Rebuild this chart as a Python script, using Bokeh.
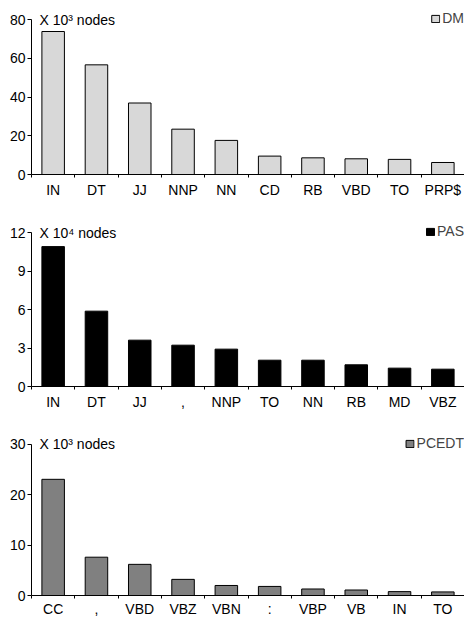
from bokeh.plotting import figure
from bokeh.layouts import column
from bokeh.models import Range1d, FixedTicker, Label, Legend, LegendItem, ColumnDataSource
from bokeh.embed import file_html
from bokeh.resources import INLINE

# ---- data ----
dm_tags = ["IN", "DT", "JJ", "NNP", "NN", "CD", "RB", "VBD", "TO", "PRP$"]
dm_vals = [73.8, 56.6, 36.9, 23.4, 17.6, 9.5, 8.6, 8.1, 7.8, 6.2]

pas_tags = ["IN", "DT", "JJ", ",", "NNP", "TO", "NN", "RB", "MD", "VBZ"]
pas_vals = [10.9, 5.87, 3.61, 3.22, 2.91, 2.05, 2.05, 1.69, 1.43, 1.35]

pcedt_tags = ["CC", ",", "VBD", "VBZ", "VBN", ":", "VBP", "VB", "IN", "TO"]
pcedt_vals = [23.05, 7.6, 6.18, 3.2, 1.99, 1.8, 1.29, 1.09, 0.77, 0.71]

panels = [
    dict(name="DM", tags=dm_tags, vals=dm_vals, ymax=80, yticks=[0, 20, 40, 60, 80],
         unit="X 10\u00b3 nodes", color="#d8d8d8"),
    dict(name="PAS", tags=pas_tags, vals=pas_vals, ymax=12, yticks=[0, 3, 6, 9, 12],
         unit="X 10\u2074 nodes", color="#000000"),
    dict(name="PCEDT", tags=pcedt_tags, vals=pcedt_vals, ymax=30, yticks=[0, 10, 20, 30],
         unit="X 10\u00b3 nodes", color="#808080"),
]

FONT = "Liberation Sans"
FS = "14px"
EXTRA = 9                 # frame space above the top tick (unit label / legend)
plot_h = [155, 154, 155]  # pixels between 0 and the top tick
tops = [10, 0, 0]
bottoms = [49, 49, 20]

figs = []
for i, pnl in enumerate(panels):
    n = len(pnl["tags"])
    frame_h = plot_h[i] + EXTRA
    ymax = pnl["ymax"]
    p = figure(width=464, height=tops[i] + frame_h + bottoms[i], output_backend="svg",
               toolbar_location=None, x_range=Range1d(0, n),
               y_range=Range1d(0, ymax * frame_h / plot_h[i]),
               min_border_left=31, min_border_right=0, min_border_top=tops[i],
               min_border_bottom=bottoms[i])
    p.outline_line_color = None
    p.xgrid.visible = False
    p.ygrid.visible = False
    p.background_fill_color = "white"
    p.border_fill_color = "white"

    src = ColumnDataSource(dict(x=[k + 0.5 for k in range(n)], top=pnl["vals"]))
    r = p.vbar(x="x", top="top", width=0.52, bottom=0, source=src,
               fill_color=pnl["color"], line_color="black", line_width=1)

    centers = [k + 0.5 for k in range(n)]
    bounds = list(range(n + 1))
    xa = p.xaxis[0]
    xa.ticker = FixedTicker(ticks=centers, minor_ticks=bounds)
    xa.major_label_overrides = {c: t for c, t in zip(centers, pnl["tags"])}
    xa.major_tick_line_color = None
    xa.major_tick_out = 1 if i == 2 else 2
    xa.major_tick_in = 0
    xa.minor_tick_line_color = "black"
    xa.minor_tick_out = 3
    xa.minor_tick_in = 0
    xa.major_label_standoff = 2 if i == 2 else 4
    xa.major_label_text_font = FONT
    xa.major_label_text_font_size = FS
    xa.major_label_text_color = "black"
    xa.axis_line_color = "black"

    ya = p.yaxis[0]
    ya.ticker = FixedTicker(ticks=pnl["yticks"])
    ya.bounds = (0, ymax)
    ya.minor_tick_line_color = None
    ya.major_tick_out = 4
    ya.major_tick_in = 0
    ya.major_label_standoff = 2
    ya.major_label_text_font = FONT
    ya.major_label_text_font_size = FS
    ya.major_label_text_color = "black"
    ya.axis_line_color = "black"

    p.add_layout(Label(x=8, y=ymax, x_units="screen", y_units="data",
                       text=pnl["unit"], text_font=FONT, text_font_size=FS,
                       text_baseline="middle", text_color="black"))

    leg = Legend(items=[LegendItem(label=pnl["name"], renderers=[r])],
                 location="top_right", border_line_color=None,
                 background_fill_alpha=0, padding=6, margin=0, spacing=0,
                 glyph_width=10, glyph_height=9, label_standoff=2, label_height=9,
                 label_width=0,
                 label_text_font=FONT, label_text_font_size=FS)
    p.add_layout(leg)
    figs.append(p)

layout = column(*figs, spacing=0)
open("out.html", "w").write(file_html(layout, INLINE))
